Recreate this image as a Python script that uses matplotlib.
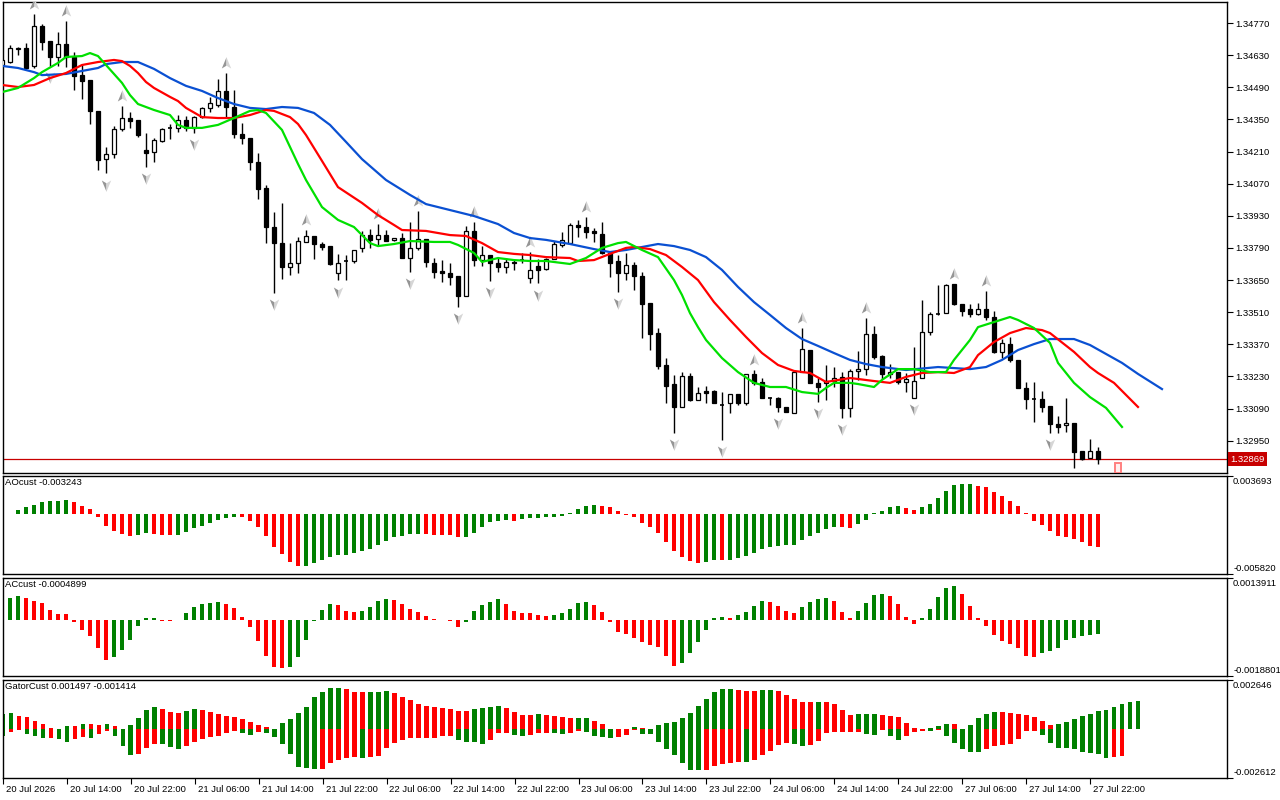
import matplotlib
matplotlib.use("Agg")
import matplotlib.pyplot as plt
import matplotlib.transforms as mtransforms
from matplotlib.path import Path
from matplotlib.patches import Rectangle
import numpy as np

plt.rcParams['font.family'] = ['Liberation Sans', 'DejaVu Sans']
FS = 6.8

# H1 bars, 20 Jul 2026 06:00 .. 27 Jul 2026 23:00
opens = [1.34587, 1.34600, 1.34657, 1.34661, 1.34583, 1.34757, 1.34692, 1.34622, 1.34679, 1.34622,
         1.34543, 1.34522, 1.34387, 1.34177, 1.34199, 1.34308, 1.34356, 1.34347, 1.34217, 1.34208,
         1.34256, 1.34313, 1.34313, 1.34347, 1.34313, 1.34360, 1.34400, 1.34413, 1.34474, 1.34404,
         1.34286, 1.34269, 1.34164, 1.34051, 1.33881, 1.33811, 1.33707, 1.33724, 1.33816, 1.33842,
         1.33807, 1.33798, 1.33681, 1.33733, 1.33733, 1.33790, 1.33846, 1.33829, 1.33846, 1.33825,
         1.33833, 1.33746, 1.33790, 1.33829, 1.33724, 1.33689, 1.33681, 1.33668, 1.33581, 1.33864,
         1.33737, 1.33759, 1.33724, 1.33707, 1.33729, 1.33737, 1.33659, 1.33711, 1.33698, 1.33742,
         1.33803, 1.33811, 1.33890, 1.33881, 1.33864, 1.33851, 1.33768, 1.33733, 1.33681, 1.33716,
         1.33668, 1.33550, 1.33419, 1.33280, 1.33197, 1.33097, 1.33232, 1.33127, 1.33167, 1.33167,
         1.33106, 1.33114, 1.33154, 1.33114, 1.33241, 1.33206, 1.33136, 1.33136, 1.33097, 1.33071,
         1.33249, 1.33345, 1.33202, 1.33202, 1.33210, 1.33228, 1.33093, 1.33254, 1.33262, 1.33415,
         1.33319, 1.33241, 1.33249, 1.33206, 1.33136, 1.33223, 1.33424, 1.33502, 1.33506, 1.33633,
         1.33546, 1.33524, 1.33502, 1.33524, 1.33489, 1.33337, 1.33371, 1.33302, 1.33180, 1.33132,
         1.33132, 1.33101, 1.33023, 1.33018, 1.33027, 1.32905, 1.32875, 1.32905]
highs = [1.34618, 1.34674, 1.34665, 1.34683, 1.34809, 1.34766, 1.34692, 1.34731, 1.34779, 1.34644,
         1.34587, 1.34522, 1.34387, 1.34230, 1.34321, 1.34408, 1.34382, 1.34347, 1.34291, 1.34269,
         1.34313, 1.34330, 1.34369, 1.34365, 1.34365, 1.34404, 1.34448, 1.34526, 1.34552, 1.34478,
         1.34334, 1.34269, 1.34204, 1.34064, 1.33947, 1.33986, 1.33811, 1.33838, 1.33868, 1.33842,
         1.33816, 1.33798, 1.33764, 1.33759, 1.33781, 1.33864, 1.33872, 1.33894, 1.33868, 1.33833,
         1.33855, 1.33903, 1.33951, 1.33829, 1.33746, 1.33737, 1.33724, 1.33668, 1.33886, 1.33903,
         1.33798, 1.33759, 1.33746, 1.33746, 1.33742, 1.33768, 1.33772, 1.33742, 1.33746, 1.33820,
         1.33859, 1.33899, 1.33912, 1.33925, 1.33877, 1.33903, 1.33768, 1.33759, 1.33768, 1.33729,
         1.33685, 1.33550, 1.33441, 1.33310, 1.33236, 1.33249, 1.33245, 1.33184, 1.33188, 1.33171,
         1.33162, 1.33154, 1.33154, 1.33241, 1.33258, 1.33223, 1.33140, 1.33140, 1.33097, 1.33258,
         1.33441, 1.33345, 1.33223, 1.33280, 1.33271, 1.33249, 1.33262, 1.33341, 1.33485, 1.33450,
         1.33323, 1.33284, 1.33249, 1.33245, 1.33358, 1.33563, 1.33511, 1.33628, 1.33633, 1.33633,
         1.33546, 1.33546, 1.33550, 1.33602, 1.33515, 1.33393, 1.33402, 1.33302, 1.33206, 1.33206,
         1.33167, 1.33101, 1.33058, 1.33136, 1.33027, 1.32905, 1.32958, 1.32923]
lows = [1.34578, 1.34596, 1.34631, 1.34570, 1.34574, 1.34652, 1.34583, 1.34583, 1.34578, 1.34478,
        1.34439, 1.34330, 1.34130, 1.34116, 1.34182, 1.34299, 1.34313, 1.34273, 1.34143, 1.34164,
        1.34252, 1.34265, 1.34295, 1.34299, 1.34291, 1.34356, 1.34382, 1.34404, 1.34360, 1.34269,
        1.34243, 1.34130, 1.34003, 1.33811, 1.33594, 1.33655, 1.33672, 1.33681, 1.33816, 1.33742,
        1.33781, 1.33716, 1.33650, 1.33650, 1.33724, 1.33772, 1.33790, 1.33803, 1.33820, 1.33820,
        1.33746, 1.33685, 1.33781, 1.33707, 1.33659, 1.33642, 1.33628, 1.33533, 1.33581, 1.33711,
        1.33711, 1.33646, 1.33685, 1.33681, 1.33694, 1.33724, 1.33637, 1.33637, 1.33694, 1.33742,
        1.33794, 1.33807, 1.33838, 1.33833, 1.33816, 1.33764, 1.33663, 1.33598, 1.33650, 1.33607,
        1.33397, 1.33345, 1.33262, 1.33114, 1.32984, 1.33097, 1.33123, 1.33127, 1.33114, 1.33114,
        1.32953, 1.33071, 1.33106, 1.33106, 1.33193, 1.33136, 1.33106, 1.33075, 1.33075, 1.33071,
        1.33249, 1.33202, 1.33119, 1.33127, 1.33184, 1.33049, 1.33053, 1.33215, 1.33236, 1.33306,
        1.33219, 1.33223, 1.33197, 1.33162, 1.33136, 1.33223, 1.33411, 1.33498, 1.33506, 1.33541,
        1.33493, 1.33489, 1.33498, 1.33476, 1.33332, 1.33310, 1.33293, 1.33180, 1.33088, 1.33032,
        1.33075, 1.32984, 1.32984, 1.32988, 1.32831, 1.32866, 1.32875, 1.32849]
closes = [1.34609, 1.34661, 1.34661, 1.34574, 1.34757, 1.34687, 1.34622, 1.34679, 1.34622, 1.34539,
          1.34517, 1.34387, 1.34173, 1.34199, 1.34308, 1.34356, 1.34343, 1.34282, 1.34204, 1.34260,
          1.34308, 1.34313, 1.34347, 1.34313, 1.34360, 1.34400, 1.34421, 1.34474, 1.34404, 1.34286,
          1.34269, 1.34164, 1.34047, 1.33881, 1.33811, 1.33707, 1.33724, 1.33820, 1.33842, 1.33807,
          1.33794, 1.33720, 1.33724, 1.33733, 1.33781, 1.33846, 1.33825, 1.33846, 1.33820, 1.33833,
          1.33746, 1.33790, 1.33829, 1.33729, 1.33685, 1.33681, 1.33663, 1.33581, 1.33864, 1.33737,
          1.33759, 1.33724, 1.33707, 1.33729, 1.33724, 1.33737, 1.33694, 1.33694, 1.33742, 1.33807,
          1.33825, 1.33890, 1.33881, 1.33859, 1.33855, 1.33768, 1.33724, 1.33681, 1.33716, 1.33668,
          1.33546, 1.33415, 1.33276, 1.33188, 1.33097, 1.33232, 1.33127, 1.33158, 1.33158, 1.33114,
          1.33106, 1.33154, 1.33114, 1.33241, 1.33202, 1.33136, 1.33136, 1.33097, 1.33075, 1.33249,
          1.33350, 1.33202, 1.33184, 1.33210, 1.33223, 1.33093, 1.33254, 1.33262, 1.33415, 1.33315,
          1.33241, 1.33249, 1.33206, 1.33219, 1.33210, 1.33424, 1.33502, 1.33502, 1.33628, 1.33546,
          1.33515, 1.33502, 1.33524, 1.33489, 1.33337, 1.33376, 1.33302, 1.33180, 1.33132, 1.33132,
          1.33097, 1.33023, 1.33010, 1.33027, 1.32901, 1.32870, 1.32905, 1.32869]

# alligator lines (bar index, price), drawn with their forward shift
jaw_idx = [0, 2, 4, 5, 8, 10, 12, 13, 15, 17, 19, 21, 23, 25, 27, 29, 31, 33, 35, 37,
           39, 40, 41, 43, 45, 48, 51, 53, 56, 59, 62, 64, 66, 68, 71, 74, 76, 78, 80, 82,
           84, 86, 88, 90, 92, 94, 96, 98, 100, 102, 104, 106, 108, 110, 113, 117, 121, 123, 125, 127,
           129, 131, 134, 136, 138, 140, 142, 145]
jaw_val = [1.34583, 1.34574, 1.34556, 1.34543, 1.34548, 1.34561, 1.34574, 1.34591, 1.34600, 1.34600,
           1.34570, 1.34530, 1.34496, 1.34474, 1.34443, 1.34417, 1.34400, 1.34395, 1.34404, 1.34400,
           1.34378, 1.34352, 1.34326, 1.34252, 1.34177, 1.34086, 1.34021, 1.33981, 1.33955, 1.33929,
           1.33894, 1.33855, 1.33833, 1.33825, 1.33807, 1.33785, 1.33772, 1.33781, 1.33794, 1.33807,
           1.33798, 1.33781, 1.33750, 1.33694, 1.33620, 1.33554, 1.33498, 1.33441, 1.33393, 1.33363,
           1.33332, 1.33302, 1.33284, 1.33271, 1.33258, 1.33271, 1.33262, 1.33271, 1.33302, 1.33345,
           1.33371, 1.33393, 1.33393, 1.33367, 1.33328, 1.33289, 1.33241, 1.33175]
teeth_idx = [0, 2, 4, 6, 8, 10, 12, 14, 15, 16, 17, 18, 19, 21, 22, 23, 25, 27, 29, 31,
             33, 34, 36, 37, 38, 40, 42, 45, 47, 49, 50, 53, 56, 58, 60, 62, 64, 66, 68, 71,
             72, 74, 76, 78, 79, 81, 83, 85, 87, 89, 91, 93, 95, 97, 99, 101, 103, 106, 107, 109,
             111, 113, 115, 117, 119, 121, 122, 124, 126, 128, 130, 131, 134, 136, 137, 139, 142]
teeth_val = [1.34500, 1.34491, 1.34500, 1.34530, 1.34552, 1.34587, 1.34600, 1.34609, 1.34604, 1.34583,
             1.34552, 1.34513, 1.34487, 1.34448, 1.34430, 1.34400, 1.34360, 1.34356, 1.34356, 1.34369,
             1.34391, 1.34387, 1.34360, 1.34330, 1.34282, 1.34169, 1.34055, 1.33986, 1.33933, 1.33890,
             1.33868, 1.33864, 1.33846, 1.33842, 1.33811, 1.33772, 1.33764, 1.33759, 1.33750, 1.33746,
             1.33733, 1.33737, 1.33764, 1.33790, 1.33794, 1.33785, 1.33759, 1.33707, 1.33650, 1.33554,
             1.33476, 1.33402, 1.33332, 1.33280, 1.33254, 1.33245, 1.33206, 1.33223, 1.33219, 1.33210,
             1.33202, 1.33228, 1.33245, 1.33249, 1.33245, 1.33271, 1.33323, 1.33380, 1.33419, 1.33441,
             1.33432, 1.33419, 1.33337, 1.33271, 1.33245, 1.33202, 1.33097]
lips_idx = [0, 2, 4, 5, 7, 8, 10, 11, 12, 13, 15, 16, 17, 19, 21, 22, 23, 25, 27, 29,
            31, 32, 33, 35, 36, 37, 38, 40, 42, 44, 46, 47, 49, 51, 54, 56, 57, 59, 60, 62,
            64, 66, 68, 71, 73, 75, 77, 78, 80, 82, 84, 85, 86, 87, 88, 90, 92, 94, 96, 98,
            100, 102, 103, 104, 106, 107, 109, 110, 112, 114, 116, 118, 119, 121, 122, 124, 126, 127, 129, 131,
            132, 134, 136, 138, 140]
lips_val = [1.34469, 1.34487, 1.34530, 1.34556, 1.34596, 1.34622, 1.34626, 1.34639, 1.34626, 1.34587,
            1.34509, 1.34456, 1.34417, 1.34391, 1.34369, 1.34326, 1.34313, 1.34313, 1.34326, 1.34356,
            1.34387, 1.34391, 1.34378, 1.34304, 1.34230, 1.34156, 1.34086, 1.33968, 1.33912, 1.33881,
            1.33811, 1.33798, 1.33807, 1.33820, 1.33816, 1.33816, 1.33803, 1.33768, 1.33729, 1.33746,
            1.33737, 1.33733, 1.33733, 1.33720, 1.33746, 1.33790, 1.33811, 1.33816, 1.33781, 1.33750,
            1.33650, 1.33585, 1.33506, 1.33445, 1.33389, 1.33310, 1.33249, 1.33202, 1.33184, 1.33184,
            1.33162, 1.33154, 1.33180, 1.33202, 1.33202, 1.33197, 1.33184, 1.33215, 1.33262, 1.33262,
            1.33249, 1.33249, 1.33302, 1.33389, 1.33445, 1.33467, 1.33489, 1.33476, 1.33441, 1.33376,
            1.33289, 1.33202, 1.33140, 1.33093, 1.33010]

fractal_up = [4, 8, 15, 28, 38, 47, 52, 59, 66, 73, 94, 100, 108, 119, 123]
fractal_down = [6, 13, 18, 24, 34, 42, 51, 57, 61, 67, 77, 84, 90, 97, 102, 105, 114, 131, 134]

price_ticks = [1.32950, 1.33090, 1.33230, 1.33370, 1.33510, 1.33650, 1.33790,
               1.33930, 1.34070, 1.34210, 1.34350, 1.34490, 1.34630, 1.34770]
main_ylim = (1.328093, 1.348615)

# oscillators, in units of 1e-5
ao_e5 = [-40, 3, 39, 71, 91, 120, 122, 124, 139, 120,
         81, 52, -26, -117, -162, -194, -210, -201, -184, -194,
         -199, -201, -200, -172, -139, -113, -84, -55, -36, -26,
         -32, -65, -129, -217, -317, -388, -469, -502, -500, -476,
         -447, -414, -399, -397, -379, -356, -340, -301, -259, -227,
         -210, -196, -193, -195, -203, -204, -206, -227, -220, -181,
         -123, -81, -65, -62, -71, -52, -42, -41, -32, -26,
         -16, 6, 52, 81, 87, 81, 65, 29, -6, -32,
         -87, -129, -184, -269, -356, -414, -453, -476, -463, -447,
         -449, -443, -430, -405, -379, -340, -324, -307, -302, -300,
         -249, -217, -184, -146, -129, -130, -136, -97, -55, 6,
         32, 71, 81, 58, 42, 71, 97, 155, 227, 282,
         290, 291, 275, 265, 217, 178, 129, 81, 6, -65,
         -107, -162, -210, -220, -243, -275, -307, -324.3]
ac_e5 = [52, 72, 79, 72, 63, 57, 32, 19, 18, -7,
         -33, -56, -95, -134, -126, -100, -67, -20, 6, 7,
         -3, -4, -1, 22, 41, 52, 57, 58, 52, 39,
         8, -23, -70, -120, -159, -160, -157, -126, -67, -3,
         32, 52, 49, 30, 27, 30, 43, 61, 69, 67,
         52, 36, 27, 11, 2, -1, -3, -23, -7, 29,
         49, 60, 69, 52, 30, 22, 21, 17, 13, 16,
         22, 36, 55, 60, 49, 27, -9, -40, -48, -62,
         -76, -83, -92, -122, -154, -145, -112, -76, -33, 6,
         8, 6, 16, 27, 45, 61, 60, 45, 30, 21,
         43, 60, 69, 71, 61, 27, 6, 30, 56, 83,
         87, 79, 52, 9, -13, 7, 36, 76, 106, 112,
         87, 46, 7, -21, -51, -70, -81, -95, -120, -126,
         -112, -104, -95, -67, -60, -55, -52, -48.99]
gator_up_e5 = [82, 86, 73, 64, 43, 27, 5, 4, 20, 18,
               27, 26, 25, 27, 18, 0, 21, 59, 102, 118,
               107, 91, 90, 97, 107, 106, 95, 82, 70, 64,
               54, 38, 21, 11, 0, 32, 55, 86, 118, 172,
               198, 220, 221, 215, 202, 198, 199, 200, 204, 193,
               172, 156, 134, 123, 118, 113, 107, 98, 97, 107,
               113, 118, 123, 113, 91, 77, 76, 80, 77, 70,
               64, 59, 60, 61, 46, 27, 0, 0, 0, 11,
               5, 0, 21, 32, 38, 59, 86, 123, 161, 198,
               215, 216, 209, 206, 205, 209, 210, 206, 184, 163,
               148, 145, 148, 145, 134, 104, 77, 80, 81, 82,
               77, 72, 64, 32, 5, 4, 9, 20, 27, 26,
               0, 23, 59, 80, 95, 91, 88, 80, 79, 64,
               45, 23, 27, 41, 55, 72, 80, 100, 101, 118,
               134, 145, 149.7]
gator_dn_e5 = [34, 13, 4, 25, 36, 48, 47, 54, 68, 54,
               43, 48, 25, 9, 34, 89, 138, 134, 102, 79,
               80, 97, 105, 91, 66, 54, 43, 34, 21, 7,
               21, 30, 13, 21, 43, 79, 134, 200, 209, 213,
               212, 182, 164, 156, 150, 156, 150, 141, 102, 72,
               57, 48, 48, 48, 48, 34, 34, 57, 66, 67,
               79, 57, 21, 21, 30, 34, 30, 21, 20, 21,
               25, 21, 7, 16, 36, 43, 48, 43, 30, 4,
               25, 26, 66, 107, 138, 182, 218, 219, 216, 197,
               186, 179, 173, 175, 164, 138, 114, 84, 75, 79,
               89, 84, 63, 21, 16, 14, 13, 12.5, 27, 28,
               4, 34, 57, 36, 13, 9, 10, 4, 36, 75,
               105, 120, 121, 105, 89, 84, 79, 54, 9, 8,
               30, 72, 98, 102, 105, 120, 129, 134, 156, 150,
               141.4]
ao_range = (-0.005820, 0.003693)
ac_range = (-0.0018801, 0.0013911)
gator_range = (-0.002612, 0.002646)

time_labels = ['20 Jul 2026', '20 Jul 14:00', '20 Jul 22:00', '21 Jul 06:00', '21 Jul 14:00',
               '21 Jul 22:00', '22 Jul 06:00', '22 Jul 14:00', '22 Jul 22:00', '23 Jul 06:00',
               '23 Jul 14:00', '23 Jul 22:00', '24 Jul 06:00', '24 Jul 14:00', '24 Jul 22:00',
               '27 Jul 06:00', '27 Jul 14:00', '27 Jul 22:00']

GREEN = '#008000'
RED = '#ff0000'


def trend_colors(vals):
    cols, cur = [], GREEN
    for k, v in enumerate(vals):
        if k > 0:
            if v > vals[k - 1]:
                cur = GREEN
            elif v < vals[k - 1]:
                cur = RED
        cols.append(cur)
    return cols


def arrow_halves(up):
    s = 1 if up else -1
    codes = [Path.MOVETO, Path.LINETO, Path.LINETO, Path.CLOSEPOLY]
    left = Path([(0, s), (0, -0.35 * s), (-0.75, -0.8 * s), (0, s)], codes)
    right = Path([(0, s), (0.75, -0.8 * s), (0, -0.35 * s), (0, s)], codes)
    return left, right


W, H = 1280, 800
fig = plt.figure(figsize=(12.8, 8), dpi=100)


def box(x0, y0, x1, y1):
    return [x0 / W, 1 - y1 / H, (x1 - x0) / W, (y1 - y0) / H]


ax = fig.add_axes(box(3, 2, 1227, 473))
ao_ax = fig.add_axes(box(3, 476, 1227, 574))
ac_ax = fig.add_axes(box(3, 578, 1227, 676))
gt_ax = fig.add_axes(box(3, 680, 1227, 778))
xlim = (0.125, 153.125)

n = len(closes)
idx = np.arange(n)
o, h, l, c = map(np.array, (opens, highs, lows, closes))

# candles
ax.vlines(idx, l, h, color='black', linewidth=1.0, zorder=2)
bull = c >= o
body = np.abs(c - o)
flat = body < 0.00002
ax.bar(idx[~flat], body[~flat], bottom=np.minimum(o, c)[~flat], width=0.6,
       color=np.where(bull, 'white', 'black')[~flat], edgecolor='black', linewidth=0.9, zorder=3)
ax.hlines(c[flat], idx[flat] - 0.3, idx[flat] + 0.3, color='black', linewidth=1.2, zorder=3)

# fractal arrows
for up, ids, off in ((True, fractal_up, 0.00044), (False, fractal_down, -0.00050)):
    ids = np.array(ids)
    ys = h[ids] + off if up else l[ids] + off
    lp, rp = arrow_halves(up)
    ax.plot(ids, ys, linestyle='none', marker=lp, markersize=9, color='#959595',
            markeredgewidth=0, zorder=4)
    ax.plot(ids, ys, linestyle='none', marker=rp, markersize=9, color='#d6d6d6',
            markeredgewidth=0, zorder=4)

# alligator
ax.plot(jaw_idx, jaw_val, color='#0a50d2', linewidth=1.6, zorder=5)
ax.plot(teeth_idx, teeth_val, color='#ff0000', linewidth=1.6, zorder=5)
ax.plot(lips_idx, lips_val, color='#00e000', linewidth=1.6, zorder=5)

# last price line and tag
last = closes[-1]
ax.axhline(last, color='#c80000', linewidth=0.9, zorder=1)
trans = mtransforms.blended_transform_factory(ax.transAxes, ax.transData)
ax.text(1.0025, last, f'{last:.5f}', transform=trans, color='white', fontsize=FS,
        va='center', ha='left', clip_on=False,
        bbox=dict(boxstyle='square,pad=0.25', facecolor='#c80000', edgecolor='none'))
ax.add_patch(Rectangle((n + 1.1, 0.0), 0.75, 0.021, transform=mtransforms.blended_transform_factory(
    ax.transData, ax.transAxes), facecolor='#fff0f0', edgecolor='#ff8080', linewidth=1.4, zorder=6))

ax.set_xlim(*xlim)
ax.set_ylim(*main_ylim)
ax.set_xticks([])
ax.yaxis.tick_right()
ax.set_yticks(price_ticks)
ax.set_yticklabels([f'{p:.5f}' for p in price_ticks])
ax.tick_params(axis='y', length=4, width=0.8, pad=2, labelsize=FS)

# oscillators
ao = np.array(ao_e5) * 1e-5
ac = np.array(ac_e5) * 1e-5
g_up = np.array(gator_up_e5) * 1e-5
g_dn = np.array(gator_dn_e5) * 1e-5

ao_ax.bar(np.arange(len(ao)), ao, width=0.6, color=trend_colors(list(ao)), linewidth=0)
ac_ax.bar(np.arange(len(ac)), ac, width=0.6, color=trend_colors(list(ac)), linewidth=0)
gt_ax.bar(np.arange(len(g_up)), g_up, width=0.6, color=trend_colors(list(g_up)), linewidth=0)
gt_ax.bar(np.arange(len(g_dn)), -g_dn, width=0.6, color=trend_colors(list(g_dn)), linewidth=0)

panels = [(ao_ax, ao_range, 'AOcust -0.003243', '{:.6f}'),
          (ac_ax, ac_range, 'ACcust -0.0004899', '{:.7f}'),
          (gt_ax, gator_range, 'GatorCust 0.001497 -0.001414', '{:.6f}')]
for pax, (lo, hi), title, fmt in panels:
    pax.set_xlim(*xlim)
    pax.set_ylim(lo, hi)
    pax.yaxis.tick_right()
    pax.set_yticks([lo, hi])
    pax.set_yticklabels([])
    pax.tick_params(axis='y', length=4, width=0.8)
    pax.text(0.0016, 0.975, title, transform=pax.transAxes, va='top', ha='left', fontsize=FS)
    pax.text(1.005, 0.99, fmt.format(hi), transform=pax.transAxes, va='top', ha='left',
             fontsize=FS, clip_on=False)
    pax.text(1.005, 0.01, fmt.format(lo), transform=pax.transAxes, va='bottom', ha='left',
             fontsize=FS, clip_on=False)
    if pax is not gt_ax:
        pax.set_xticks([])

gt_ax.set_xticks(np.arange(0, n, 8))
gt_ax.set_xticklabels(time_labels, ha='left')
gt_ax.tick_params(axis='x', length=4, width=0.8, pad=1, labelsize=FS)
shift = mtransforms.ScaledTranslation(2 / 72, 0, fig.dpi_scale_trans)
for lbl in gt_ax.get_xticklabels():
    lbl.set_transform(lbl.get_transform() + shift)

for a in (ax, ao_ax, ac_ax, gt_ax):
    for sp in a.spines.values():
        sp.set_linewidth(1.0)
        sp.set_color('black')

fig.savefig('out.png', dpi=100)
